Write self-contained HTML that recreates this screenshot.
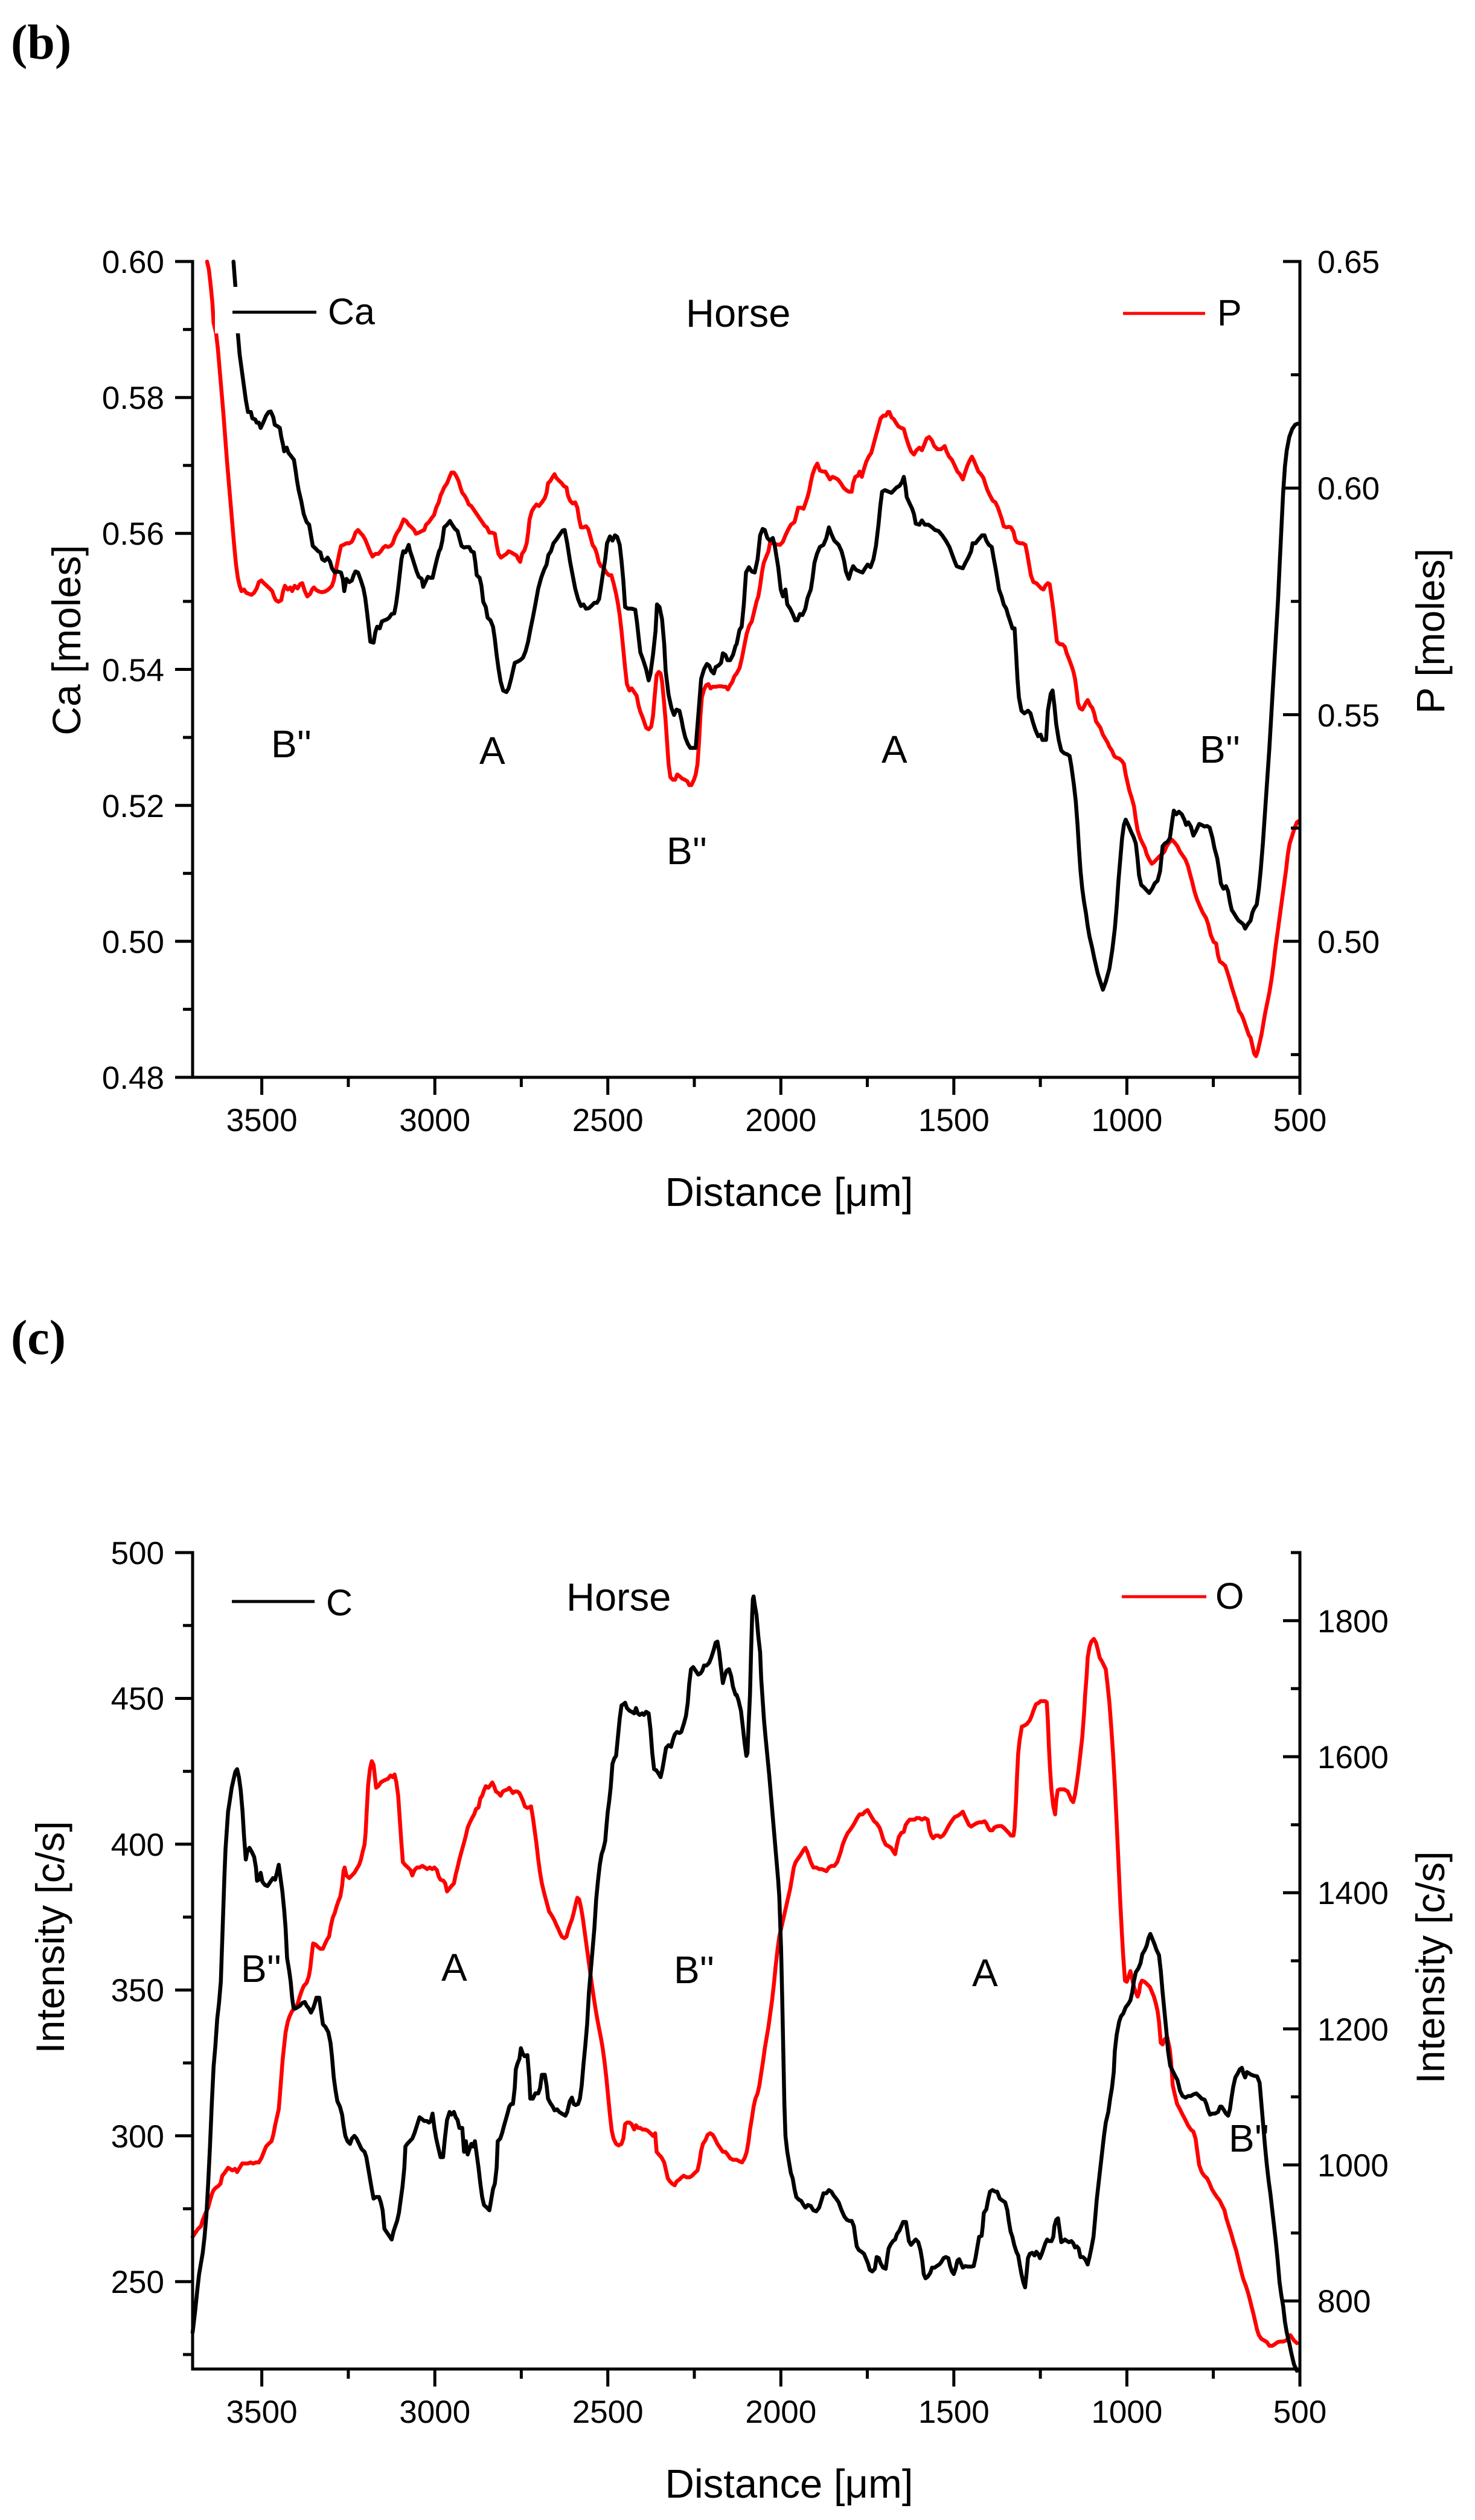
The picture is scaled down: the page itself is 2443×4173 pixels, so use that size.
<!DOCTYPE html>
<html>
<head>
<meta charset="utf-8">
<style>
html,body{margin:0;padding:0;background:#fff;}
svg{display:block;}
text{font-family:"Liberation Sans",Arial,sans-serif;fill:#000;}
.pl{font-family:"Liberation Serif","Times New Roman",serif;font-weight:bold;font-size:82px;}
.tk{font-size:53px;}
.ti{font-size:66px;}
.lg{font-size:61px;}
.an{font-size:64px;}
.ax{stroke:#000;stroke-width:5;fill:none;}
.cb{stroke:#000;stroke-width:6.5;fill:none;stroke-linejoin:round;stroke-linecap:round;}
.cr{stroke:#ff0000;stroke-width:6.5;fill:none;stroke-linejoin:round;stroke-linecap:round;}
</style>
</head>
<body>
<svg width="2443" height="4173" viewBox="0 0 2443 4173" xmlns="http://www.w3.org/2000/svg">
<rect x="0" y="0" width="2443" height="4173" fill="#fff"/>

<!-- ================= PANEL (b) ================= -->
<text class="pl" x="18" y="97">(b)</text>

<text class="an" x="449" y="1254">B''</text>
<text class="an" x="794" y="1265">A</text>
<text class="an" x="1104" y="1431">B''</text>
<text class="an" x="1460" y="1263">A</text>
<text class="an" x="1987" y="1263">B''</text>

<g transform="translate(310,420) scale(0.59949,0.88010)">
<path class="cr" vector-effect="non-scaling-stroke" d="M55,15 L60,30 L65,60 L70,95 L73,130 L80,150 L85,180 L90,220 L95,260 L100,300 L105,345 L110,390 L115,430 L120,470 L125,510 L130,550 L135,585 L140,610 L145,625 L150,635 L157,632 L163,638 L170,640 L178,642 L185,638 L192,630 L198,618 L205,615 L212,620 L220,625 L228,630 L235,635 L240,645 L245,652 L252,655 L260,652 L265,635 L270,625 L278,632 L285,628 L290,635 L297,625 L305,630 L312,622 L318,620 L325,635 L332,645 L340,640 L345,632 L350,628 L357,633 L365,636 L372,637 L380,636 L388,633 L393,630 L400,625 L405,615 L410,598 L415,582 L420,565 L425,550 L432,548 L440,545 L448,545 L455,542 L460,535 L465,525 L472,520 L478,525 L485,530 L492,538 L498,548 L505,560 L512,570 L520,565 L528,565 L535,560 L542,553 L548,550 L555,552 L562,550 L568,545 L574,533 L580,525 L587,518 L592,510 L598,500 L605,503 L612,510 L620,515 L627,520 L632,527 L640,525 L648,522 L655,520 L660,510 L668,505 L675,498 L682,492 L688,478 L695,468 L700,455 L705,448 L710,440 L718,432 L725,420 L730,412 L737,412 L743,418 L750,428 L755,440 L760,450 L766,455 L772,462 L778,472 L785,475 L792,482 L800,490 L808,498 L815,505 L822,512 L828,515 L835,525 L842,525 L850,527 L855,548 L860,565 L867,572 L875,568 L882,565 L888,560 L895,562 L902,565 L910,568 L915,575 L920,580 L925,565 L932,558 L938,545 L942,525 L946,500 L952,485 L958,478 L965,472 L972,475 L980,468 L988,460 L993,450 L997,432 L1003,428 L1010,420 L1015,415 L1020,422 L1027,427 L1035,432 L1040,437 L1048,440 L1052,455 L1058,465 L1065,470 L1072,468 L1078,478 L1083,500 L1088,515 L1095,515 L1102,513 L1108,518 L1115,535 L1120,548 L1127,555 L1132,565 L1137,580 L1143,588 L1150,590 L1158,600 L1165,605 L1172,605 L1178,620 L1185,640 L1190,658 L1195,680 L1200,710 L1205,745 L1210,780 L1215,810 L1222,822 L1228,818 L1235,825 L1242,832 L1247,850 L1252,862 L1258,872 L1262,880 L1268,892 L1275,895 L1282,890 L1287,870 L1292,830 L1297,793 L1303,787 L1308,790 L1312,805 L1317,840 L1322,880 L1326,920 L1330,960 L1335,985 L1342,990 L1348,990 L1354,980 L1360,983 L1368,988 L1375,990 L1382,993 L1387,1000 L1393,1000 L1400,990 L1405,980 L1410,960 L1414,920 L1418,870 L1422,835 L1428,820 L1434,812 L1440,810 L1446,818 L1452,815 L1460,815 L1468,814 L1476,814 L1482,815 L1488,815 L1494,820 L1500,812 L1506,806 L1512,795 L1518,790"/>
<path class="cb" vector-effect="non-scaling-stroke" d="M128,15 L133,60 L140,150 L145,190 L150,215 L157,250 L162,275 L168,298 L176,298 L180,310 L188,312 L192,318 L198,318 L203,328 L210,318 L218,305 L225,298 L231,297 L238,308 L242,322 L250,325 L256,328 L260,345 L265,360 L268,372 L275,365 L280,375 L286,380 L295,388 L300,410 L303,425 L308,445 L315,465 L322,490 L330,505 L337,510 L342,530 L347,550 L355,555 L362,560 L368,562 L373,575 L380,578 L388,572 L395,580 L400,592 L408,600 L415,598 L425,600 L430,612 L434,635 L440,612 L448,618 L455,615 L460,605 L465,598 L472,600 L480,615 L487,630 L492,648 L497,675 L502,705 L506,730 L515,732 L520,712 L525,702 L532,705 L538,692 L545,690 L552,688 L558,685 L565,678 L572,677 L577,660 L582,635 L587,605 L592,575 L597,560 L603,562 L608,555 L612,548 L616,560 L622,572 L628,585 L634,598 L640,608 L648,612 L652,627 L658,618 L665,608 L672,610 L678,610 L684,592 L690,575 L696,560 L700,555 L705,540 L710,515 L718,510 L726,503 L732,510 L740,518 L747,522 L752,535 L758,550 L765,553 L772,552 L779,552 L785,560 L792,562 L796,580 L800,605 L808,610 L813,625 L818,655 L825,665 L830,685 L838,690 L845,702 L850,725 L855,755 L860,780 L866,805 L873,822 L882,825 L888,818 L895,800 L900,785 L905,770 L912,768 L920,765 L928,760 L935,748 L942,730 L948,708 L955,685 L962,660 L970,630 L978,610 L986,595 L993,585 L998,567 L1005,560 L1012,545 L1020,538 L1028,530 L1037,521 L1043,520 L1050,545 L1058,580 L1065,605 L1072,630 L1080,650 L1088,663 L1095,660 L1102,668 L1110,667 L1118,662 L1125,657 L1132,657 L1138,650 L1142,633 L1148,605 L1155,575 L1160,545 L1168,532 L1175,540 L1182,530 L1188,533 L1195,548 L1200,578 L1205,615 L1210,665 L1218,668 L1228,668 L1238,670 L1243,695 L1247,720 L1252,750 L1260,765 L1268,782 L1275,803 L1280,790 L1287,755 L1294,710 L1298,660 L1305,665 L1312,688 L1318,735 L1322,785 L1330,830 L1338,855 L1345,868 L1352,858 L1360,860 L1366,878 L1370,893 L1376,910 L1383,922 L1390,930 L1398,930 L1405,930 L1412,870 L1420,800 L1428,782 L1436,772 L1442,775 L1448,785 L1455,790 L1460,778 L1468,775 L1475,770 L1480,752 L1487,755 L1493,765 L1500,765 L1508,755 L1515,738"/>
</g>
<g transform="translate(1220,420) scale(0.59949,0.88010)">
<path class="cr" vector-effect="non-scaling-stroke" d="M0,790 L8,780 L15,760 L22,735 L28,715 L35,700 L42,692 L48,675 L55,655 L60,645 L65,625 L70,600 L75,582 L82,570 L88,560 L92,545 L100,545 L110,547 L120,548 L128,542 L135,530 L142,520 L150,510 L160,505 L165,492 L170,478 L178,478 L185,480 L190,470 L195,460 L200,448 L205,430 L210,415 L217,402 L223,395 L230,408 L238,410 L245,410 L252,418 L258,425 L265,420 L272,422 L280,425 L288,432 L295,440 L303,445 L310,448 L318,448 L322,432 L328,420 L335,418 L340,410 L346,420 L352,405 L358,392 L365,382 L372,375 L378,360 L385,342 L392,325 L398,310 L405,305 L412,305 L418,298 L422,298 L428,308 L435,312 L440,318 L447,325 L455,328 L462,330 L468,345 L475,360 L482,372 L490,378 L497,370 L505,365 L512,370 L518,360 L525,348 L532,345 L540,352 L546,362 L555,368 L565,368 L575,362 L580,372 L587,382 L595,388 L602,398 L610,410 L617,415 L625,425 L632,410 L638,398 L645,388 L650,382 L656,390 L662,400 L668,410 L675,415 L682,422 L688,435 L693,445 L700,455 L708,465 L715,468 L722,478 L728,490 L733,500 L738,513 L745,515 L752,514 L758,515 L765,523 L770,538 L775,543 L783,545 L790,545 L798,548 L803,565 L808,585 L813,605 L820,618 L828,620 L835,625 L842,630 L848,632 L853,625 L860,620 L865,622 L870,645 L875,670 L880,700 L885,730 L893,735 L900,735 L907,740 L912,752 L918,762 L925,775 L930,785 L935,800 L940,825 L943,845 L948,855 L955,858 L960,852 L965,845 L970,840 L977,850 L983,855 L988,865 L993,880 L998,885 L1005,892 L1012,905 L1018,912 L1025,920 L1030,928 L1037,935 L1043,945 L1048,948 L1057,950 L1065,955 L1070,960 L1075,980 L1080,995 L1085,1010 L1092,1025 L1098,1040 L1103,1065 L1108,1085 L1115,1100 L1122,1110 L1128,1118 L1133,1130 L1140,1140 L1147,1148 L1153,1145 L1160,1140 L1167,1135 L1175,1130 L1182,1125 L1188,1115 L1195,1108 L1203,1103 L1210,1108 L1218,1115 L1225,1125 L1232,1132 L1240,1140 L1247,1152 L1253,1168 L1258,1180 L1265,1200 L1272,1215 L1280,1228 L1288,1240 L1297,1250 L1303,1262 L1310,1282 L1318,1295 L1325,1298 L1330,1320 L1335,1332 L1342,1335 L1350,1340 L1355,1350 L1362,1365 L1368,1380 L1375,1395 L1382,1410 L1388,1425 L1395,1432 L1400,1440 L1405,1450 L1410,1460 L1415,1470 L1420,1475 L1425,1490 L1430,1505 L1435,1510 L1440,1500 L1445,1485 L1450,1470 L1455,1450 L1460,1430 L1466,1410 L1472,1390 L1478,1365 L1483,1340 L1488,1310 L1493,1285 L1498,1260 L1503,1235 L1508,1210 L1513,1185 L1518,1160 L1523,1130 L1528,1110 L1535,1095 L1542,1080 L1548,1070 L1552,1068"/>
<path class="cb" vector-effect="non-scaling-stroke" d="M0,735 L8,708 L14,702 L20,660 L26,600 L34,590 L42,598 L50,600 L58,575 L65,530 L72,518 L78,520 L85,535 L92,540 L100,535 L105,548 L115,590 L122,632 L128,645 L135,632 L140,660 L148,668 L155,678 L162,690 L168,690 L175,678 L182,680 L190,668 L196,648 L205,632 L210,610 L215,582 L222,565 L230,552 L240,548 L248,535 L255,515 L262,528 L270,540 L282,548 L290,560 L297,578 L302,598 L310,612 L316,598 L322,588 L330,595 L340,598 L348,600 L355,592 L362,585 L370,590 L378,575 L385,550 L392,510 L397,475 L402,448 L410,445 L420,448 L428,450 L435,445 L442,440 L450,437 L457,430 L462,420 L467,440 L470,458 L478,470 L485,480 L490,490 L495,508 L505,510 L512,502 L520,510 L530,510 L540,515 L548,520 L558,522 L568,530 L578,540 L588,552 L595,565 L602,578 L608,588 L615,590 L625,592 L632,582 L640,572 L648,560 L652,545 L660,545 L668,538 L678,530 L685,530 L690,540 L697,548 L705,552 L710,572 L715,590 L720,610 L725,632 L732,645 L738,660 L745,668 L750,680 L755,690 L762,705 L768,705 L772,750 L776,800 L780,835 L787,860 L795,865 L805,860 L812,865 L818,880 L825,895 L833,908 L840,905 L845,915 L855,915 L860,860 L868,828 L873,822 L878,850 L883,885 L890,915 L897,935 L905,940 L913,942 L920,945 L925,965 L932,1000 L937,1030 L942,1075 L946,1120 L950,1160 L955,1195 L960,1220 L965,1240 L970,1265 L975,1285 L982,1305 L988,1325 L993,1340 L998,1355 L1005,1370 L1012,1385 L1020,1370 L1030,1345 L1038,1310 L1045,1270 L1050,1230 L1055,1180 L1060,1140 L1065,1100 L1070,1075 L1075,1065 L1082,1075 L1090,1088 L1097,1098 L1103,1110 L1108,1140 L1112,1170 L1118,1188 L1125,1192 L1133,1198 L1140,1203 L1148,1195 L1155,1185 L1163,1180 L1170,1162 L1177,1115 L1183,1110 L1190,1107 L1197,1100 L1203,1070 L1208,1048 L1215,1055 L1222,1050 L1230,1055 L1237,1065 L1242,1075 L1248,1070 L1255,1078 L1262,1095 L1270,1085 L1278,1073 L1285,1075 L1293,1078 L1300,1077 L1307,1080 L1315,1100 L1320,1118 L1328,1138 L1333,1160 L1338,1185 L1345,1195 L1352,1190 L1358,1200 L1363,1220 L1368,1235 L1373,1240 L1380,1248 L1387,1255 L1393,1258 L1400,1262 L1405,1270 L1412,1262 L1420,1255 L1425,1240 L1430,1232 L1437,1225 L1443,1195 L1448,1160 L1454,1110 L1460,1050 L1466,990 L1472,930 L1478,860 L1484,790 L1490,720 L1496,650 L1500,590 L1505,520 L1510,450 L1515,400 L1520,370 L1527,345 L1535,330 L1543,322 L1550,320"/>
</g>

<rect x="356" y="475" width="290" height="77" fill="#fff"/>
<line x1="385" y1="517" x2="524" y2="517" stroke="#000" stroke-width="5"/>
<text class="lg" x="543" y="537">Ca</text>
<text class="lg" x="1136" y="541" style="font-size:65px">Horse</text>
<line x1="1860" y1="519" x2="1996" y2="519" stroke="#ff0000" stroke-width="5"/>
<text class="lg" x="2016" y="539">P</text>

<path class="ax" d="M319,430.5 L319,1784 L2153,1784 M2153,430.5 L2153,1784"/>
<path class="ax" d="M290,433H319 M303,545.6H319 M290,658.2H319 M303,770.7H319 M290,883.3H319 M303,995.9H319 M290,1108.5H319 M303,1221.1H319 M290,1333.7H319 M303,1446.2H319 M290,1558.8H319 M303,1671.4H319 M290,1784H319"/>
<path class="ax" d="M2125,433H2153 M2138,620.6H2153 M2125,808.3H2153 M2138,995.9H2153 M2125,1183.5H2153 M2138,1371.2H2153 M2125,1558.8H2153 M2138,1746.4H2153"/>
<path class="ax" d="M433.6,1784V1813 M576.9,1784V1800 M720.2,1784V1813 M863.4,1784V1800 M1006.7,1784V1813 M1150,1784V1800 M1293.3,1784V1813 M1436.5,1784V1800 M1579.8,1784V1813 M1723.1,1784V1800 M1866.4,1784V1813 M2009.6,1784V1800 M2153,1784V1813"/>

<g text-anchor="end">
<text class="tk" x="272" y="452">0.60</text>
<text class="tk" x="272" y="677">0.58</text>
<text class="tk" x="272" y="902">0.56</text>
<text class="tk" x="272" y="1128">0.54</text>
<text class="tk" x="272" y="1353">0.52</text>
<text class="tk" x="272" y="1578">0.50</text>
<text class="tk" x="272" y="1803">0.48</text>
</g>
<g>
<text class="tk" x="2182" y="452">0.65</text>
<text class="tk" x="2182" y="827">0.60</text>
<text class="tk" x="2182" y="1203">0.55</text>
<text class="tk" x="2182" y="1578">0.50</text>
</g>
<g text-anchor="middle">
<text class="tk" x="433.6" y="1873">3500</text>
<text class="tk" x="720.2" y="1873">3000</text>
<text class="tk" x="1006.7" y="1873">2500</text>
<text class="tk" x="1293.3" y="1873">2000</text>
<text class="tk" x="1579.8" y="1873">1500</text>
<text class="tk" x="1866.4" y="1873">1000</text>
<text class="tk" x="2153" y="1873">500</text>
</g>
<text class="ti" transform="translate(133,1060) rotate(-90)" text-anchor="middle">Ca [moles]</text>
<text class="ti" transform="translate(2392,1045) rotate(-90)" text-anchor="middle">P [moles]</text>
<text class="ti" x="1307" y="1997" text-anchor="middle" style="font-size:67px">Distance [μm]</text>

<!-- ================= PANEL (c) ================= -->
<text class="pl" x="18" y="2242">(c)</text>

<text class="an" x="399" y="3282">B''</text>
<text class="an" x="731" y="3280">A</text>
<text class="an" x="1116" y="3284">B''</text>
<text class="an" x="1610" y="3289">A</text>
<text class="an" x="2035" y="3563">B''</text>

<g transform="translate(310,2560) scale(0.59949,0.88010)">
<path class="cr" vector-effect="non-scaling-stroke" d="M15,1300 L20,1295 L25,1290 L30,1285 L38,1280 L43,1268 L48,1260 L53,1252 L58,1245 L63,1232 L68,1220 L73,1212 L80,1207 L85,1205 L92,1200 L97,1185 L103,1180 L108,1175 L113,1170 L118,1172 L125,1175 L132,1172 L138,1178 L145,1170 L152,1162 L160,1162 L168,1162 L175,1160 L182,1162 L190,1160 L198,1160 L205,1152 L212,1140 L218,1130 L225,1125 L233,1120 L238,1108 L243,1090 L248,1075 L253,1060 L256,1035 L260,1000 L264,965 L268,940 L272,915 L278,895 L283,885 L290,875 L298,870 L305,862 L310,850 L316,838 L322,828 L330,822 L336,810 L340,795 L344,770 L348,748 L355,750 L362,755 L368,758 L375,758 L380,750 L387,740 L392,735 L397,715 L402,700 L408,690 L412,680 L418,668 L423,660 L428,640 L432,612 L435,605 L440,620 L448,625 L455,620 L462,615 L468,608 L475,600 L480,590 L485,575 L490,562 L493,540 L496,500 L500,450 L505,420 L510,405 L515,412 L518,430 L522,455 L528,452 L535,445 L542,442 L548,440 L555,438 L562,432 L568,435 L573,430 L578,445 L583,470 L588,520 L592,560 L596,595 L602,600 L610,605 L617,610 L622,620 L628,610 L635,605 L642,605 L650,602 L657,605 L663,608 L670,605 L677,608 L683,605 L690,610 L695,622 L700,628 L708,630 L713,635 L718,650 L724,645 L730,640 L737,635 L742,618 L747,605 L752,590 L758,575 L765,558 L770,545 L775,530 L780,522 L787,512 L793,505 L798,495 L805,492 L810,475 L815,470 L820,460 L825,452 L832,455 L838,450 L843,445 L848,452 L853,462 L860,465 L866,470 L872,462 L878,460 L885,458 L890,455 L895,460 L900,465 L905,462 L912,462 L918,465 L923,472 L928,480 L933,490 L940,493 L945,492 L950,490 L955,510 L960,535 L965,560 L970,590 L975,615 L980,635 L987,655 L993,670 L1000,688 L1007,695 L1015,705 L1020,713 L1025,720 L1030,728 L1035,735 L1042,738 L1048,735 L1053,722 L1058,712 L1063,703 L1068,690 L1073,675 L1078,662 L1083,665 L1088,680 L1093,700 L1098,725 L1103,750 L1108,775 L1113,800 L1118,825 L1123,848 L1128,870 L1133,890 L1138,908 L1143,925 L1148,945 L1153,970 L1158,1000 L1163,1035 L1168,1070 L1173,1100 L1178,1115 L1185,1125 L1192,1128 L1200,1125 L1205,1115 L1210,1088 L1215,1085 L1222,1085 L1228,1088 L1235,1098 L1240,1090 L1246,1095 L1252,1095 L1258,1098 L1265,1098 L1272,1100 L1280,1105 L1287,1110 L1293,1105 L1297,1140 L1303,1145 L1310,1150 L1318,1160 L1323,1175 L1328,1190 L1333,1195 L1340,1200 L1347,1203 L1352,1196 L1360,1192 L1366,1188 L1372,1185 L1380,1188 L1388,1188 L1395,1185 L1402,1180 L1410,1175 L1415,1160 L1420,1138 L1425,1125 L1432,1118 L1438,1108 L1445,1105 L1452,1108 L1458,1115 L1465,1125 L1472,1132 L1480,1140 L1487,1140 L1493,1145 L1500,1152 L1508,1155 L1515,1155"/>
<path class="cb" vector-effect="non-scaling-stroke" d="M15,1480 L22,1440 L28,1400 L33,1370 L38,1350 L43,1330 L48,1300 L53,1260 L58,1200 L63,1130 L68,1050 L73,980 L78,940 L83,890 L88,860 L93,820 L96,760 L100,680 L103,620 L106,570 L110,530 L113,500 L118,478 L123,455 L128,440 L133,425 L138,420 L143,435 L148,460 L153,500 L157,545 L162,590 L166,575 L172,568 L178,575 L185,585 L190,605 L193,630 L198,628 L203,615 L208,632 L215,638 L222,640 L230,632 L237,625 L243,628 L248,615 L253,600 L258,625 L263,650 L268,685 L272,720 L276,775 L282,800 L286,820 L290,850 L294,870 L300,870 L305,868 L312,865 L318,860 L325,858 L330,865 L336,870 L342,878 L348,870 L353,860 L357,850 L365,850 L370,875 L375,900 L382,905 L390,915 L396,935 L400,960 L405,1000 L410,1025 L415,1045 L422,1055 L428,1070 L432,1090 L437,1110 L443,1120 L450,1125 L455,1115 L462,1110 L468,1115 L475,1125 L482,1135 L490,1140 L495,1150 L500,1170 L505,1190 L510,1210 L515,1228 L522,1225 L530,1225 L535,1235 L540,1250 L545,1285 L552,1292 L558,1298 L565,1305 L570,1290 L575,1280 L580,1270 L585,1255 L590,1230 L595,1205 L600,1170 L603,1130 L608,1125 L615,1120 L622,1115 L628,1105 L635,1090 L642,1075 L648,1078 L655,1082 L662,1082 L668,1085 L673,1082 L678,1068 L683,1095 L688,1115 L693,1130 L700,1150 L707,1150 L712,1115 L718,1080 L725,1065 L730,1070 L737,1065 L742,1075 L747,1080 L752,1095 L760,1095 L765,1140 L770,1120 L775,1145 L780,1135 L785,1125 L790,1130 L795,1120 L800,1145 L805,1170 L810,1200 L815,1225 L820,1240 L828,1245 L835,1250 L840,1230 L845,1210 L850,1200 L855,1170 L858,1120 L865,1115 L870,1105 L875,1092 L880,1080 L885,1068 L890,1055 L895,1050 L900,1050 L905,1020 L908,985 L912,975 L918,965 L922,945 L927,955 L932,960 L940,958 L945,1000 L948,1040 L955,1040 L962,1030 L970,1030 L975,1020 L980,995 L988,995 L993,1015 L997,1040 L1003,1048 L1010,1055 L1015,1062 L1022,1060 L1028,1065 L1035,1068 L1045,1072 L1050,1065 L1057,1045 L1063,1038 L1068,1050 L1073,1052 L1080,1050 L1085,1040 L1090,1015 L1095,975 L1100,940 L1105,900 L1110,840 L1115,800 L1120,760 L1125,720 L1130,665 L1135,630 L1140,600 L1145,580 L1150,570 L1155,555 L1158,530 L1162,500 L1166,480 L1170,455 L1175,410 L1180,400 L1185,395 L1190,360 L1195,325 L1200,300 L1205,298 L1210,295 L1215,305 L1222,310 L1228,312 L1235,315 L1240,305 L1245,315 L1250,318 L1257,315 L1262,318 L1268,312 L1275,315 L1280,345 L1285,390 L1290,420 L1296,422 L1302,428 L1308,435 L1313,420 L1318,400 L1323,380 L1330,375 L1337,378 L1342,365 L1347,355 L1353,350 L1360,352 L1365,350 L1372,335 L1378,320 L1383,295 L1387,260 L1392,232 L1398,228 L1405,235 L1412,242 L1418,240 L1423,235 L1428,225 L1435,225 L1442,220 L1448,210 L1455,195 L1460,182 L1465,180 L1470,200 L1475,230 L1480,258 L1485,245 L1490,235 L1497,232 L1503,245 L1508,265 L1515,280"/>
</g>
<g transform="translate(1220,2560) scale(0.59949,0.88010)">
<path class="cr" vector-effect="non-scaling-stroke" d="M0,1155 L8,1158 L15,1160 L22,1152 L28,1140 L33,1120 L37,1098 L42,1078 L47,1055 L52,1040 L58,1030 L63,1015 L68,992 L73,970 L78,945 L83,925 L88,905 L93,880 L98,855 L103,825 L108,790 L113,760 L118,735 L123,720 L128,705 L133,690 L138,675 L143,660 L148,645 L153,625 L158,605 L163,595 L170,588 L178,580 L185,572 L190,568 L195,575 L200,585 L205,595 L212,605 L220,605 L228,608 L235,608 L242,610 L248,612 L255,605 L262,602 L270,602 L278,595 L283,585 L288,575 L293,562 L300,550 L307,540 L313,535 L320,528 L327,520 L333,512 L340,505 L348,505 L355,500 L362,497 L367,503 L373,510 L380,518 L387,522 L395,530 L400,540 L405,552 L412,562 L420,565 L427,568 L433,575 L438,580 L443,562 L448,548 L455,540 L462,538 L467,525 L472,520 L478,515 L485,515 L492,515 L497,512 L505,512 L512,515 L520,512 L528,515 L533,535 L538,545 L543,550 L550,545 L557,545 L563,548 L570,545 L577,538 L583,530 L590,522 L597,515 L603,510 L610,508 L617,505 L625,500 L630,508 L635,515 L642,525 L648,528 L655,525 L662,522 L670,520 L678,520 L685,518 L690,522 L695,530 L700,535 L707,535 L712,530 L718,528 L725,527 L732,527 L738,530 L745,535 L752,540 L758,545 L765,545 L768,530 L772,480 L775,430 L778,390 L782,365 L788,340 L795,338 L802,335 L810,328 L815,320 L820,310 L827,298 L835,295 L840,292 L846,292 L852,292 L857,294 L860,330 L863,380 L866,420 L870,460 L875,490 L880,505 L883,480 L887,460 L892,458 L898,458 L905,458 L910,460 L915,462 L920,470 L925,478 L930,482 L935,468 L940,445 L945,420 L950,390 L955,360 L960,315 L963,280 L967,245 L970,210 L975,190 L980,180 L987,175 L993,182 L998,195 L1003,210 L1010,218 L1015,225 L1020,232 L1025,262 L1030,295 L1035,340 L1040,390 L1045,450 L1050,520 L1055,595 L1060,670 L1065,735 L1068,770 L1073,818 L1078,820 L1083,810 L1088,800 L1093,815 L1098,830 L1103,840 L1108,848 L1112,840 L1115,825 L1120,818 L1127,820 L1135,825 L1142,830 L1148,840 L1153,848 L1158,860 L1163,875 L1167,895 L1172,935 L1177,938 L1183,928 L1190,925 L1197,948 L1200,968 L1205,1015 L1210,1030 L1217,1050 L1225,1060 L1232,1070 L1240,1080 L1247,1090 L1255,1098 L1262,1102 L1268,1115 L1273,1140 L1278,1165 L1285,1178 L1292,1185 L1300,1190 L1307,1200 L1313,1210 L1320,1218 L1327,1225 L1335,1232 L1342,1242 L1348,1250 L1353,1265 L1360,1280 L1367,1295 L1373,1310 L1380,1325 L1387,1345 L1393,1362 L1400,1380 L1407,1392 L1413,1405 L1418,1418 L1423,1432 L1428,1445 L1433,1460 L1438,1475 L1443,1485 L1450,1492 L1458,1495 L1465,1498 L1472,1505 L1480,1505 L1487,1502 L1495,1498 L1502,1497 L1510,1497 L1518,1495 L1525,1490 L1530,1485 L1535,1490 L1540,1495 L1548,1500"/>
<path class="cb" vector-effect="non-scaling-stroke" d="M0,280 L5,290 L12,310 L18,345 L22,370 L27,395 L30,390 L33,340 L37,280 L40,200 L43,130 L45,100 L47,95 L50,110 L55,130 L60,170 L65,200 L68,250 L72,290 L76,330 L80,360 L85,395 L90,430 L95,470 L100,510 L105,550 L110,590 L115,630 L118,660 L120,700 L123,760 L126,850 L129,950 L132,1050 L135,1110 L140,1140 L145,1160 L150,1180 L155,1190 L160,1210 L165,1225 L172,1230 L178,1232 L185,1240 L190,1245 L197,1240 L205,1242 L212,1250 L220,1252 L228,1245 L235,1230 L240,1218 L248,1218 L255,1212 L262,1215 L268,1222 L275,1228 L282,1235 L290,1250 L298,1262 L305,1268 L312,1270 L318,1270 L324,1280 L328,1300 L332,1318 L338,1325 L345,1328 L352,1332 L357,1340 L363,1350 L368,1362 L375,1365 L382,1360 L387,1338 L393,1340 L398,1350 L405,1358 L412,1360 L417,1335 L420,1322 L425,1315 L432,1308 L438,1305 L443,1295 L450,1288 L455,1280 L460,1272 L468,1272 L472,1290 L476,1308 L482,1315 L488,1310 L495,1305 L502,1310 L508,1325 L513,1345 L517,1370 L522,1378 L528,1375 L535,1368 L540,1358 L547,1358 L553,1355 L560,1352 L565,1348 L572,1340 L578,1338 L585,1340 L590,1355 L595,1365 L600,1370 L605,1360 L610,1345 L615,1342 L620,1350 L625,1358 L632,1355 L640,1356 L648,1356 L655,1355 L660,1340 L665,1320 L670,1300 L677,1298 L680,1280 L683,1255 L690,1248 L695,1230 L700,1215 L707,1212 L715,1215 L720,1215 L727,1228 L735,1232 L742,1235 L748,1250 L752,1270 L757,1290 L762,1300 L767,1315 L773,1328 L778,1335 L783,1355 L787,1370 L792,1385 L797,1395 L801,1370 L805,1340 L810,1332 L817,1330 L823,1335 L828,1328 L833,1332 L838,1340 L843,1332 L848,1322 L853,1312 L858,1305 L863,1308 L870,1308 L875,1300 L878,1280 L883,1268 L888,1265 L892,1285 L897,1310 L902,1308 L907,1305 L913,1308 L918,1310 L925,1308 L930,1312 L935,1320 L940,1318 L945,1322 L950,1338 L957,1338 L963,1342 L970,1352 L975,1338 L980,1322 L986,1300 L990,1270 L995,1230 L1000,1200 L1005,1170 L1010,1140 L1015,1110 L1020,1085 L1027,1065 L1032,1040 L1037,1020 L1042,990 L1045,950 L1050,920 L1057,895 L1062,885 L1068,880 L1075,868 L1082,862 L1088,855 L1093,840 L1098,818 L1103,802 L1110,795 L1116,785 L1121,768 L1128,760 L1133,752 L1138,738 L1143,730 L1148,738 L1155,750 L1160,760 L1167,770 L1172,800 L1177,840 L1182,875 L1187,910 L1192,950 L1198,978 L1205,988 L1210,995 L1218,1005 L1225,1025 L1232,1035 L1240,1038 L1248,1035 L1255,1035 L1262,1032 L1270,1030 L1278,1035 L1285,1040 L1293,1042 L1298,1050 L1303,1062 L1308,1070 L1315,1068 L1322,1068 L1330,1065 L1336,1055 L1340,1055 L1345,1060 L1352,1068 L1358,1072 L1363,1060 L1367,1040 L1372,1018 L1378,1000 L1385,992 L1390,985 L1396,982 L1400,992 L1405,1000 L1410,990 L1415,992 L1422,995 L1430,997 L1438,998 L1445,1010 L1450,1050 L1455,1090 L1460,1130 L1465,1165 L1470,1195 L1475,1220 L1480,1250 L1485,1280 L1490,1310 L1495,1345 L1500,1385 L1505,1410 L1510,1430 L1515,1460 L1520,1480 L1527,1500 L1533,1520 L1540,1540 L1548,1552"/>
</g>

<line x1="384" y1="2652" x2="521" y2="2652" stroke="#000" stroke-width="5"/>
<text class="lg" x="540" y="2675">C</text>
<text class="lg" x="938" y="2667" style="font-size:65px">Horse</text>
<line x1="1858" y1="2644" x2="1998" y2="2644" stroke="#ff0000" stroke-width="5"/>
<text class="lg" x="2013" y="2664">O</text>

<path class="ax" d="M319,2568.5 L319,3923 L2153,3923 M2153,2568.5 L2153,3923"/>
<path class="ax" d="M290,2571H319 M303,2691.7H319 M290,2812.5H319 M303,2933.2H319 M290,3053.9H319 M303,3174.6H319 M290,3295.4H319 M303,3416.1H319 M290,3536.8H319 M303,3657.6H319 M290,3778.3H319 M303,3899H319"/>
<path class="ax" d="M2138,2571H2153 M2125,2683.7H2153 M2138,2796.3H2153 M2125,2909H2153 M2138,3021.7H2153 M2125,3134.3H2153 M2138,3247H2153 M2125,3359.7H2153 M2138,3472.3H2153 M2125,3585H2153 M2138,3697.7H2153 M2125,3810.3H2153"/>
<path class="ax" d="M433.6,3923V3952 M576.9,3923V3939 M720.2,3923V3952 M863.4,3923V3939 M1006.7,3923V3952 M1150,3923V3939 M1293.3,3923V3952 M1436.5,3923V3939 M1579.8,3923V3952 M1723.1,3923V3939 M1866.4,3923V3952 M2009.6,3923V3939 M2153,3923V3952"/>

<g text-anchor="end">
<text class="tk" x="272" y="2590">500</text>
<text class="tk" x="272" y="2831">450</text>
<text class="tk" x="272" y="3073">400</text>
<text class="tk" x="272" y="3314">350</text>
<text class="tk" x="272" y="3556">300</text>
<text class="tk" x="272" y="3797">250</text>
</g>
<g>
<text class="tk" x="2182" y="2703">1800</text>
<text class="tk" x="2182" y="2928">1600</text>
<text class="tk" x="2182" y="3153">1400</text>
<text class="tk" x="2182" y="3379">1200</text>
<text class="tk" x="2182" y="3604">1000</text>
<text class="tk" x="2182" y="3829">800</text>
</g>
<g text-anchor="middle">
<text class="tk" x="433.6" y="4012">3500</text>
<text class="tk" x="720.2" y="4012">3000</text>
<text class="tk" x="1006.7" y="4012">2500</text>
<text class="tk" x="1293.3" y="4012">2000</text>
<text class="tk" x="1579.8" y="4012">1500</text>
<text class="tk" x="1866.4" y="4012">1000</text>
<text class="tk" x="2153" y="4012">500</text>
</g>
<text class="ti" transform="translate(106,3208) rotate(-90)" text-anchor="middle">Intensity [c/s]</text>
<text class="ti" transform="translate(2392,3258) rotate(-90)" text-anchor="middle">Intensity [c/s]</text>
<text class="ti" x="1307" y="4136" text-anchor="middle" style="font-size:67px">Distance [μm]</text>
</svg>
</body>
</html>
